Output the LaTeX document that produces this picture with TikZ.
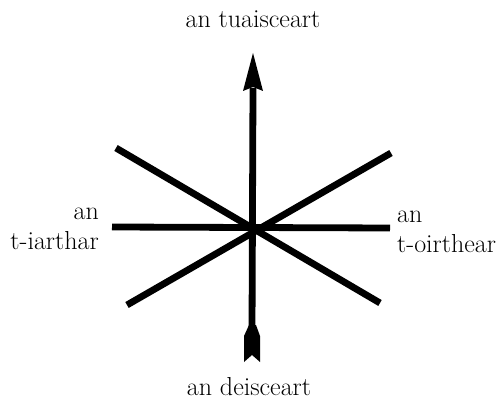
\documentclass[tikz,border=0pt]{standalone}
\begin{document}
\begin{tikzpicture}[x=1pt,y=-1pt,
  spoke/.style={line width=6.8pt},
  lbl/.style={font=\fontsize{26}{30}\selectfont, inner sep=0pt},
  tipfill/.style={fill=black}]
\useasboundingbox (0,0) rectangle (500,403);
\coordinate (c) at (252,228);
\coordinate (w) at (112,227);
\coordinate (e) at (390,228);
\coordinate (nw) at (116,148);
\coordinate (se) at (380,303);
\coordinate (ne) at (391,153);
\coordinate (sw) at (127,305);
\coordinate (n) at (253,88);
\coordinate (s) at (252,330);
\draw[spoke] (w) -- (e);
\draw[spoke] (nw) -- (se);
\draw[spoke] (ne) -- (sw);
\draw[spoke] (n) -- (s);
% arrowhead
\fill[tipfill] (253,53) -- (263,91) -- (253,87) -- (243,91) -- cycle;
% fletching
\fill[tipfill] (249,325) -- (256,325) -- (260,336) -- (260,362) -- (252,355) -- (244,362) -- (244,336) -- cycle;
\node[lbl, anchor=base] (tn) at (253,28) {an tuaisceart};
\node[lbl, anchor=base] (td) at (249,395) {an deisceart};
\node[lbl, anchor=base east, align=right] (tw) at (99,250) {an\\t-iarthar};
\node[lbl, anchor=base west, align=left] (te) at (397,252) {an\\t-oirthear};
\end{tikzpicture}
\end{document}
